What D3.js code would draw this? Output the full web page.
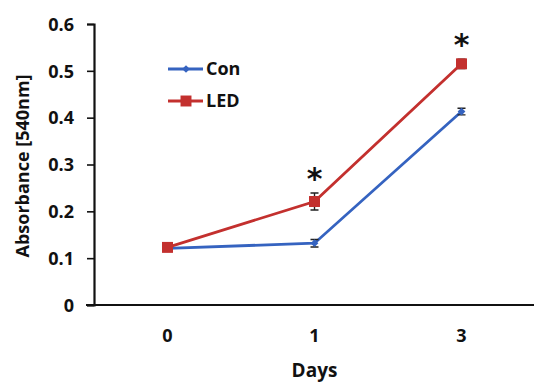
<!DOCTYPE html>
<html>
<head>
<meta charset="utf-8">
<script src="https://cdn.jsdelivr.net/npm/d3@7"></script>
<style>
  body { margin: 0; background: #fff; }
  text { font-family: "Open Sans", "Noto Sans", sans-serif; fill: #111; }
</style>
</head>
<body>
<div id="chart"></div>
<script>
///////////////////////////////////////////////////////////////////////////////////////////////////

let days = ["0", "1", "3"];
let con_values = [0.121, 0.132, 0.413];
let con_errors = [0.004, 0.008, 0.007];
let led_values = [0.123, 0.221, 0.515];
let led_errors = [0.005, 0.018, 0.010];
let y_ticks = [0, 0.1, 0.2, 0.3, 0.4, 0.5, 0.6];
let stars = [{ day: "1", value: 0.280 }, { day: "3", value: 0.566 }];

///////////////////////////////////////////////////////////////////////////////////////////////////

var svg_width = 534, svg_height = 383;
var margin = { top: 24, right: 0, bottom: 78, left: 94 };

var svg = d3.select("#chart")
  .append("svg")
    .attr("width", svg_width)
    .attr("height", svg_height);

var x = d3.scaleBand()
    .domain(days)
    .range([margin.left, svg_width + 1]);

var y = d3.scaleLinear()
    .domain([0, 0.6])
    .range([svg_height - margin.bottom, margin.top]);

// y axis
var y_axis = svg.append("g")
    .attr("transform", "translate(" + margin.left + ",0)")
    .call(d3.axisLeft(y).tickValues(y_ticks).tickSize(7).tickPadding(13)
        .tickFormat(function(d) { return d === 0 ? "0" : d3.format(".1f")(d); }));
y_axis.select(".domain").attr("stroke", "#111").attr("stroke-width", 2.2);
y_axis.selectAll(".tick line").attr("stroke", "#111").attr("stroke-width", 1.6);
y_axis.selectAll("text")
    .style("font-size", "18px").style("font-weight", "bold").attr("dy", "0.35em");

// x axis
var x_axis = svg.append("g")
    .attr("transform", "translate(0," + (svg_height - margin.bottom) + ")")
    .call(d3.axisBottom(x).tickSize(0).tickPadding(24));
x_axis.select(".domain").attr("stroke", "#111").attr("stroke-width", 2.2)
    .attr("d", "M" + (margin.left - 8) + ",0H" + (svg_width + 1));
x_axis.selectAll("text")
    .style("font-size", "18px").style("font-weight", "bold");

svg.append("text")
    .attr("transform", "translate(" + (x("1") + x.bandwidth() / 2) + "," + 377 + ")")
    .style("text-anchor", "middle")
    .style("font-size", "19px").style("font-weight", "bold")
    .text("Days");

svg.append("text")
    .attr("transform", "translate(29," + 166 + ") rotate(-90)")
    .style("text-anchor", "middle")
    .style("font-size", "18px").style("font-weight", "bold")
    .text("Absorbance [540nm]");

// series
let series = [
    { name: "Con", values: con_values, errors: con_errors, color: "#3563c0", shape: "diamond" },
    { name: "LED", values: led_values, errors: led_errors, color: "#c3302e", shape: "square" }
];

function cx(i) { return x(days[i]) + x.bandwidth() / 2; }

var line = d3.line()
    .x(function(d, i) { return cx(i); })
    .y(function(d) { return y(d); });

function marker(shape) {
    return shape === "diamond" ? d3.symbol(d3.symbolSquare, 30)() : d3.symbol(d3.symbolSquare, 120)();
}

series.forEach(function(s) {
    let g = svg.append("g");
    g.append("path")
        .datum(s.values)
        .attr("fill", "none")
        .attr("stroke", s.color)
        .attr("stroke-width", 2.8)
        .attr("d", line);

    s.values.forEach(function(v, i) {
        let e = s.errors[i];
        g.append("path")
            .attr("d", "M" + (cx(i) - 4) + "," + y(v + e) + "H" + (cx(i) + 4)
                + "M" + cx(i) + "," + y(v + e) + "V" + y(v - e)
                + "M" + (cx(i) - 4) + "," + y(v - e) + "H" + (cx(i) + 4))
            .attr("stroke", "#222")
            .attr("stroke-width", 1.4)
            .attr("fill", "none");
        g.append("path")
            .attr("transform", "translate(" + cx(i) + "," + y(v) + ")" + (s.shape === "diamond" ? " rotate(45)" : ""))
            .attr("d", marker(s.shape))
            .attr("fill", s.color);
    });
});

// significance stars
svg.selectAll(".star")
    .data(stars)
    .join("text")
        .attr("class", "star")
        .attr("x", function(d) { return x(d.day) + x.bandwidth() / 2; })
        .attr("y", function(d) { return y(d.value); })
        .style("text-anchor", "middle")
        .style("font-size", "30px")
        .style("font-weight", "bold")
        .style("font-family", "DejaVu Sans, sans-serif")
        .attr("dy", "0.5em")
        .text("*");

// legend
var legend = svg.append("g");
series.forEach(function(s, i) {
    let ly = 69 + i * 32;
    legend.append("line")
        .attr("x1", 168).attr("x2", 203)
        .attr("y1", ly).attr("y2", ly)
        .attr("stroke", s.color).attr("stroke-width", 2.8);
    legend.append("path")
        .attr("transform", "translate(186," + ly + ")" + (s.shape === "diamond" ? " rotate(45)" : ""))
        .attr("d", marker(s.shape))
        .attr("fill", s.color);
    legend.append("text")
        .attr("x", 206).attr("y", ly)
        .attr("dy", "0.35em")
        .style("font-size", "18px").style("font-weight", "bold")
        .text(s.name);
});
</script>
</body>
</html>
